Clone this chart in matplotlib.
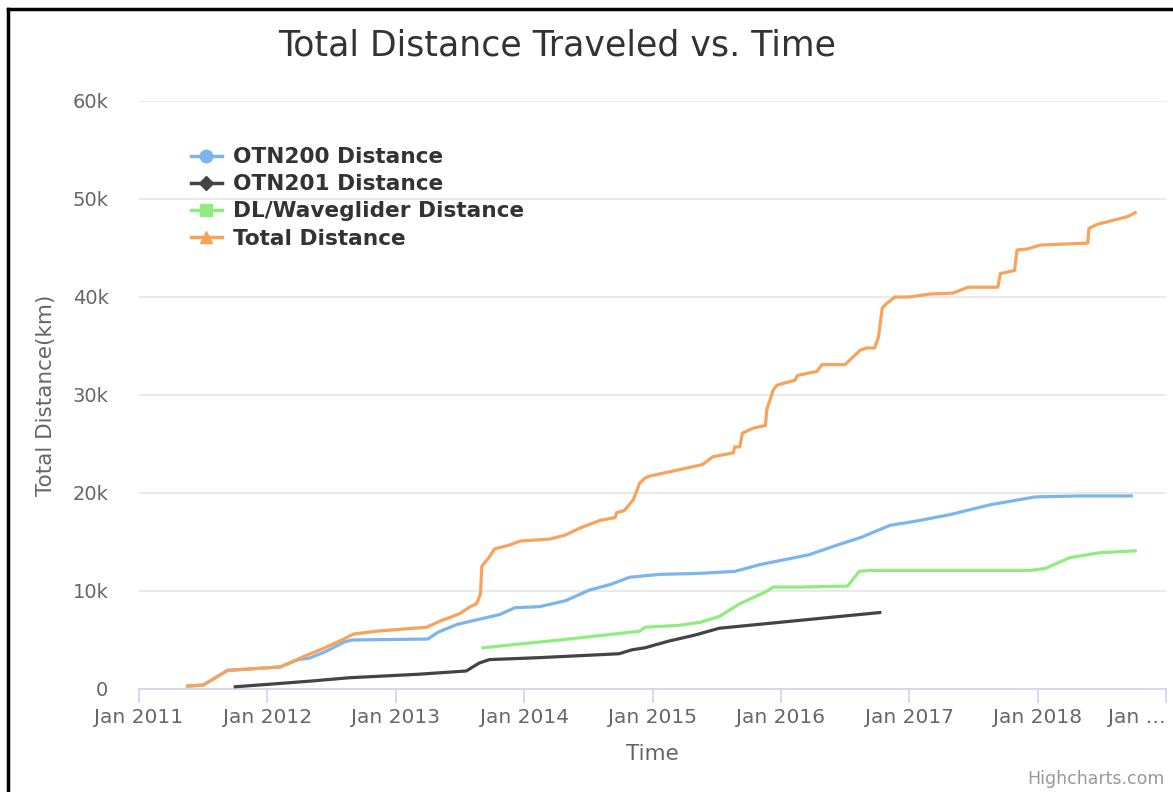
import matplotlib.pyplot as plt
from matplotlib.lines import Line2D

# decimal year, distance (km)
total_t = [2011.38, 2011.50, 2011.69, 2012.10, 2012.28, 2012.43, 2012.58, 2012.67, 2012.85,
           2013.24, 2013.34, 2013.50, 2013.58, 2013.63, 2013.66, 2013.67, 2013.73,
           2013.77, 2013.89, 2013.97, 2014.20, 2014.32, 2014.43, 2014.59, 2014.71, 2014.72,
           2014.78, 2014.85, 2014.90, 2014.94, 2014.97, 2015.39, 2015.47, 2015.63,
           2015.64, 2015.68, 2015.70, 2015.78, 2015.88, 2015.89, 2015.94, 2015.97, 2016.05,
           2016.11, 2016.13, 2016.28, 2016.32, 2016.50, 2016.62, 2016.67, 2016.73, 2016.76,
           2016.79, 2016.83, 2016.89, 2017.00, 2017.16, 2017.34, 2017.46, 2017.69, 2017.71,
           2017.82, 2017.84, 2017.92, 2018.02, 2018.39, 2018.40, 2018.46, 2018.70, 2018.76]
total_d = [300, 400, 1900, 2250, 3300, 4100, 5000, 5600, 5900,
           6300, 6900, 7700, 8400, 8700, 9700, 12500, 13500,
           14300, 14700, 15100, 15300, 15700, 16400, 17200, 17500, 18000,
           18200, 19300, 21000, 21500, 21700, 22900, 23700, 24100,
           24700, 24700, 26100, 26600, 26900, 28500, 30500, 31000, 31300,
           31500, 32000, 32400, 33100, 33100, 34600, 34800, 34800, 35900,
           38900, 39400, 40000, 40000, 40300, 40400, 41000, 41000, 42400,
           42700, 44800, 44900, 45300, 45500, 47000, 47400, 48200, 48600]

otn200_t = [2011.38, 2011.50, 2011.69, 2012.10, 2012.24, 2012.33, 2012.45, 2012.60, 2012.66,
            2013.25, 2013.33, 2013.48, 2013.81, 2013.93, 2014.12, 2014.32,
            2014.51, 2014.68, 2014.82, 2015.06, 2015.37, 2015.64, 2015.84, 2015.99, 2016.22,
            2016.42, 2016.63, 2016.85, 2017.04, 2017.32, 2017.63, 2017.98, 2018.33, 2018.73]
otn200_d = [300, 400, 1900, 2250, 3000, 3160, 3800, 4800, 5000,
            5100, 5800, 6600, 7600, 8300, 8400, 9000,
            10100, 10700, 11400, 11700, 11800, 12000, 12700, 13100, 13700,
            14600, 15500, 16700, 17100, 17800, 18800, 19600, 19700, 19700]

otn201_t = [2011.75, 2011.98, 2012.33, 2012.64, 2013.17, 2013.55, 2013.65, 2013.73,
            2014.12, 2014.59, 2014.74, 2014.84, 2014.94, 2015.13, 2015.33, 2015.52, 2015.91,
            2016.30, 2016.77]
otn201_d = [230, 450, 800, 1150, 1500, 1840, 2650, 3000,
            3200, 3500, 3600, 4000, 4200, 4900, 5500, 6200, 6700,
            7200, 7800]

glider_t = [2013.68, 2013.97, 2014.28, 2014.90, 2014.94, 2015.21, 2015.37, 2015.52, 2015.68,
            2015.88, 2015.94, 2016.15, 2016.52, 2016.61, 2016.69, 2017.94, 2018.06, 2018.25,
            2018.48, 2018.76]
glider_d = [4200, 4600, 5000, 5900, 6300, 6500, 6800, 7400, 8700,
            9900, 10400, 10400, 10500, 12000, 12100, 12100, 12300, 13400,
            13900, 14100]

years = list(range(2011, 2020))
year_labels = ['Jan %d' % y for y in years[:-1]] + ['Jan …']

fig = plt.figure(figsize=[11.73, 7.92], dpi=100)
ax = fig.add_axes([139 / 1173, 1 - 689 / 792, 1027 / 1173, 588 / 792])

ax.plot(otn200_t, otn200_d, c='#7cb5ec', lw=2.3, label='OTN200 Distance', zorder=3)
ax.plot(otn201_t, otn201_d, c='#434348', lw=2.3, label='OTN201 Distance', zorder=3)
ax.plot(glider_t, glider_d, c='#90ed7d', lw=2.3, label='DL/Waveglider Distance', zorder=3)
ax.plot(total_t, total_d, c='#f7a35c', lw=2.3, label='Total Distance', zorder=3)

ax.set_xlim(2011, 2019)
ax.set_ylim(0, 60000)
ax.set_yticks(range(0, 60001, 10000))
ax.set_yticklabels(['0'] + ['%dk' % (v // 1000) for v in range(10000, 60001, 10000)])
ax.set_xticks(years)
ax.set_xticklabels(year_labels)
ax.get_xticklabels()[-1].set_horizontalalignment('right')

ax.grid(axis='y', color='#e6e6e6', lw=1.2, zorder=0)
for s in ['top', 'right', 'left']:
    ax.spines[s].set_visible(False)
ax.spines['bottom'].set_color('#ccd6eb')
ax.spines['bottom'].set_linewidth(1.2)
ax.tick_params(axis='y', length=0, pad=22, labelsize=14, labelcolor='#666666')
ax.tick_params(axis='x', length=10, width=1.2, color='#ccd6eb', pad=4,
               labelsize=14.5, labelcolor='#666666')

ax.set_ylabel('Total Distance(km)', fontsize=15.5, color='#666666', labelpad=12)
ax.set_xlabel('Time', fontsize=15.5, color='#666666', labelpad=12)
fig.text(557 / 1173, 1 - 46 / 792, 'Total Distance Traveled vs. Time',
         fontsize=25, color='#333333', ha='center', va='center')

handles = [
    Line2D([], [], c='#7cb5ec', lw=2.5, marker='o', ms=9),
    Line2D([], [], c='#434348', lw=2.5, marker='D', ms=7),
    Line2D([], [], c='#90ed7d', lw=2.5, marker='s', ms=8),
    Line2D([], [], c='#f7a35c', lw=2.5, marker='^', ms=9),
]
labels = ['OTN200 Distance', 'OTN201 Distance', 'DL/Waveglider Distance', 'Total Distance']
leg = ax.legend(handles, labels, loc='upper left', bbox_to_anchor=(0.0398, 0.94),
                frameon=False, handlelength=1.45, handletextpad=0.5, labelspacing=0.33,
                borderpad=0, prop={'weight': 'bold', 'size': 15.6})
for t in leg.get_texts():
    t.set_color('#333333')

fig.text(1165 / 1173, 1 - 779 / 792, 'Highcharts.com', fontsize=12.5,
         color='#999999', ha='right', va='center')

# screenshot frame
fig.add_artist(Line2D([8 / 1173, 8 / 1173], [0, 1 - 9 / 792], color='black', lw=2.5))
fig.add_artist(Line2D([8 / 1173, 1], [1 - 9 / 792, 1 - 9 / 792], color='black', lw=2.5))

plt.savefig('out.png', dpi=100)
